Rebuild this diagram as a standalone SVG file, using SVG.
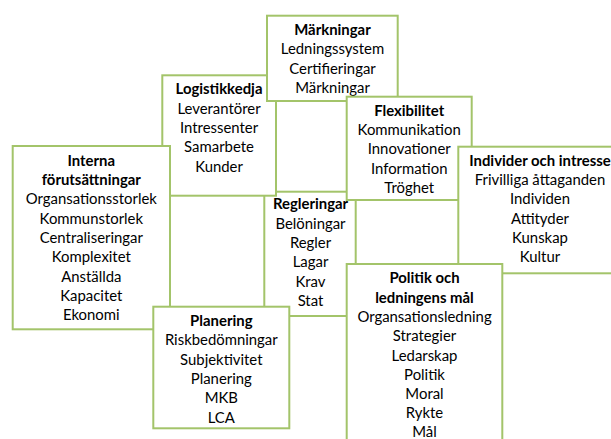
<svg xmlns="http://www.w3.org/2000/svg" width="611" height="439" viewBox="0 0 611 439">
<style>
.box{fill:#ffffff;stroke:#a3c46a;stroke-width:2}
text{font-family:Lato,"Open Sans","Liberation Sans",sans-serif;font-size:14.9px;fill:#000;text-anchor:middle}
.t{font-weight:bold}
</style>
<rect width="611" height="439" fill="#ffffff"/>
<g id="connectors"/>
<g id="regleringar">
<rect class="box" x="264.3" y="191.7" width="91.4" height="124.3"/>
<text x="310.5" y="209.3" class="t">Regleringar</text>
<text x="310.5" y="228.6">Belöningar</text>
<text x="310.5" y="247.9">Regler</text>
<text x="310.5" y="267.2">Lagar</text>
<text x="310.5" y="286.5">Krav</text>
<text x="310.5" y="305.8">Stat</text>
</g>
<g id="logistikkedja">
<rect class="box" x="162.3" y="75.3" width="113.7" height="120.4"/>
<text x="219" y="94.3" class="t">Logistikkedja</text>
<text x="219" y="113.6">Leverantörer</text>
<text x="219" y="132.9">Intressenter</text>
<text x="219" y="152.2">Samarbete</text>
<text x="219" y="171.5">Kunder</text>
</g>
<g id="markningar">
<rect class="box" x="267" y="15.7" width="130.7" height="85.3"/>
<text x="332.5" y="35" class="t">Märkningar</text>
<text x="332.5" y="54.3">Ledningssystem</text>
<text x="332.5" y="73.6">Certifieringar</text>
<text x="332.5" y="92.9">Märkningar</text>
</g>
<g id="interna">
<rect class="box" x="12.7" y="146" width="157.3" height="183.3"/>
<text x="91.3" y="165.7" class="t">Interna</text>
<text x="91.3" y="185" class="t">förutsättningar</text>
<text x="91.3" y="204.3">Organsationsstorlek</text>
<text x="91.3" y="223.6">Kommunstorlek</text>
<text x="91.3" y="242.9">Centraliseringar</text>
<text x="91.3" y="262.2">Komplexitet</text>
<text x="91.3" y="281.5">Anställda</text>
<text x="91.3" y="300.8">Kapacitet</text>
<text x="91.3" y="320.1">Ekonomi</text>
</g>
<g id="flexibilitet">
<rect class="box" x="346.7" y="96.7" width="125" height="103.3"/>
<text x="409.2" y="115.7" class="t">Flexibilitet</text>
<text x="409.2" y="135">Kommunikation</text>
<text x="409.2" y="154.3">Innovationer</text>
<text x="409.2" y="173.6">Information</text>
<text x="409.2" y="192.9">Tröghet</text>
</g>
<g id="individer">
<rect class="box" x="458.3" y="146.7" width="163.4" height="126.6"/>
<text x="540" y="165.7" class="t">Individer och intresse</text>
<text x="540" y="185">Frivilliga åttaganden</text>
<text x="540" y="204.3">Individen</text>
<text x="540" y="223.6">Attityder</text>
<text x="540" y="242.9">Kunskap</text>
<text x="540" y="262.2">Kultur</text>
</g>
<g id="planering">
<rect class="box" x="153.3" y="306.7" width="136" height="121.6"/>
<text x="221.3" y="326" class="t">Planering</text>
<text x="221.3" y="345.3">Riskbedömningar</text>
<text x="221.3" y="364.6">Subjektivitet</text>
<text x="221.3" y="383.9">Planering</text>
<text x="221.3" y="403.2">MKB</text>
<text x="221.3" y="422.5">LCA</text>
</g>
<g id="politik">
<rect class="box" x="346.7" y="264" width="155.6" height="190"/>
<text x="424.5" y="283.3" class="t">Politik och</text>
<text x="424.5" y="302.6" class="t">ledningens mål</text>
<text x="424.5" y="321.9">Organsationsledning</text>
<text x="424.5" y="341.2">Strategier</text>
<text x="424.5" y="360.5">Ledarskap</text>
<text x="424.5" y="379.8">Politik</text>
<text x="424.5" y="399.1">Moral</text>
<text x="424.5" y="418.4">Rykte</text>
<text x="424.5" y="436.5">Mål</text>
</g>
</svg>
